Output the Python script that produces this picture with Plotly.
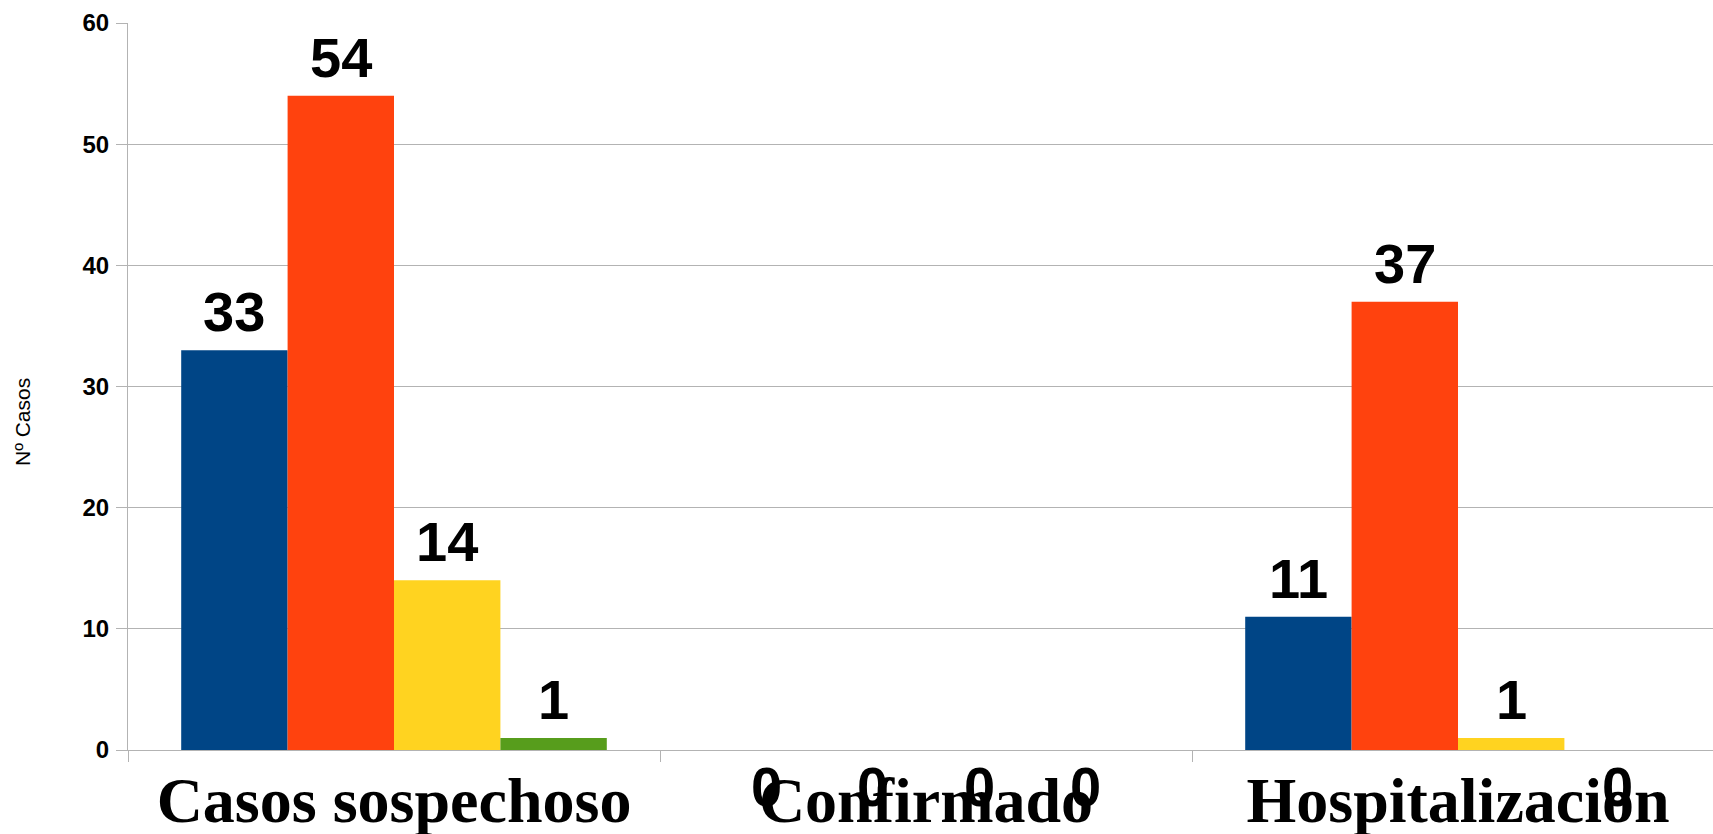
import plotly.graph_objects as go

categories = ["Casos sospechoso", "Confirmado", "Hospitalizacion"]
series_names = ["Serie 1", "Serie 2", "Serie 3", "Serie 4"]
serie1 = [33, 0, 11]
serie2 = [54, 0, 37]
serie3 = [14, 0, 1]
serie4 = [1, 0, 0]
y_ticks = [0, 10, 20, 30, 40, 50, 60]

colors = ["#004586", "#ff420e", "#ffd320", "#579d1c"]
all_series = [serie1, serie2, serie3, serie4]

# body margin removed in the page (post_script), so layout maps 1:1 to the window
W, H = 1713, 834
ML, MR, MT, MB = 128, 0, 23, 84
CAT_PX = 532.0

fig = go.Figure()
for name, vals, col in zip(series_names, all_series, colors):
    fig.add_trace(go.Bar(
        x=categories, y=vals, name=name,
        marker=dict(color=col, line=dict(width=0)),
        showlegend=False, hoverinfo="skip",
    ))

# data labels
n = len(all_series)
group_w = 0.8
bar_w = group_w / n
for i, vals in enumerate(all_series):
    off = -group_w / 2 + bar_w * (i + 0.5)
    for j, v in enumerate(vals):
        fig.add_annotation(
            x=j + off, y=v, xref="x", yref="y",
            text=str(v), showarrow=False,
            xanchor="center", yanchor="bottom",
            yshift=5 if v > 0 else -70,
            font=dict(family="Liberation Sans", size=56, color="#000000", weight="bold"),
        )

# y axis title
plot_w = W - ML - MR
plot_h = H - MT - MB
fig.add_annotation(
    x=(22 - ML) / plot_w, y=(H - MB - 422) / plot_h, xref="paper", yref="paper",
    text="Nº Casos", showarrow=False, textangle=-90,
    xanchor="center", yanchor="middle",
    font=dict(family="Liberation Sans", size=21, color="#000000"),
)

fig.update_layout(
    width=W, height=H,
    margin=dict(l=ML, r=MR, t=MT, b=MB, pad=0),
    paper_bgcolor="white", plot_bgcolor="white",
    barmode="group", bargap=0.2, bargroupgap=0,
    xaxis=dict(
        type="category",
        range=[-0.5, -0.5 + plot_w / CAT_PX],
        tickson="boundaries", ticks="outside", ticklen=11, tickcolor="#b3b3b3",
        showline=True, linecolor="#b3b3b3", linewidth=1,
        showgrid=False, zeroline=False, automargin=False,
        ticklabelstandoff=-6,
        tickfont=dict(family="Liberation Serif", size=64, color="#000000", weight="bold"),
    ),
    yaxis=dict(
        range=[0, 60], tickvals=y_ticks,
        ticks="outside", ticklen=11, tickcolor="#b3b3b3",
        showline=True, linecolor="#b3b3b3", linewidth=1,
        showgrid=True, gridcolor="#b3b3b3", gridwidth=1,
        zeroline=False, automargin=False, ticklabelstandoff=2,
        tickfont=dict(family="Liberation Sans", size=24, color="#000000", weight="bold"),
    ),
)

fig.write_html(
    "out.html",
    config={"displayModeBar": False},
    post_script="document.body.style.margin='0';document.body.style.overflow='hidden';",
)
